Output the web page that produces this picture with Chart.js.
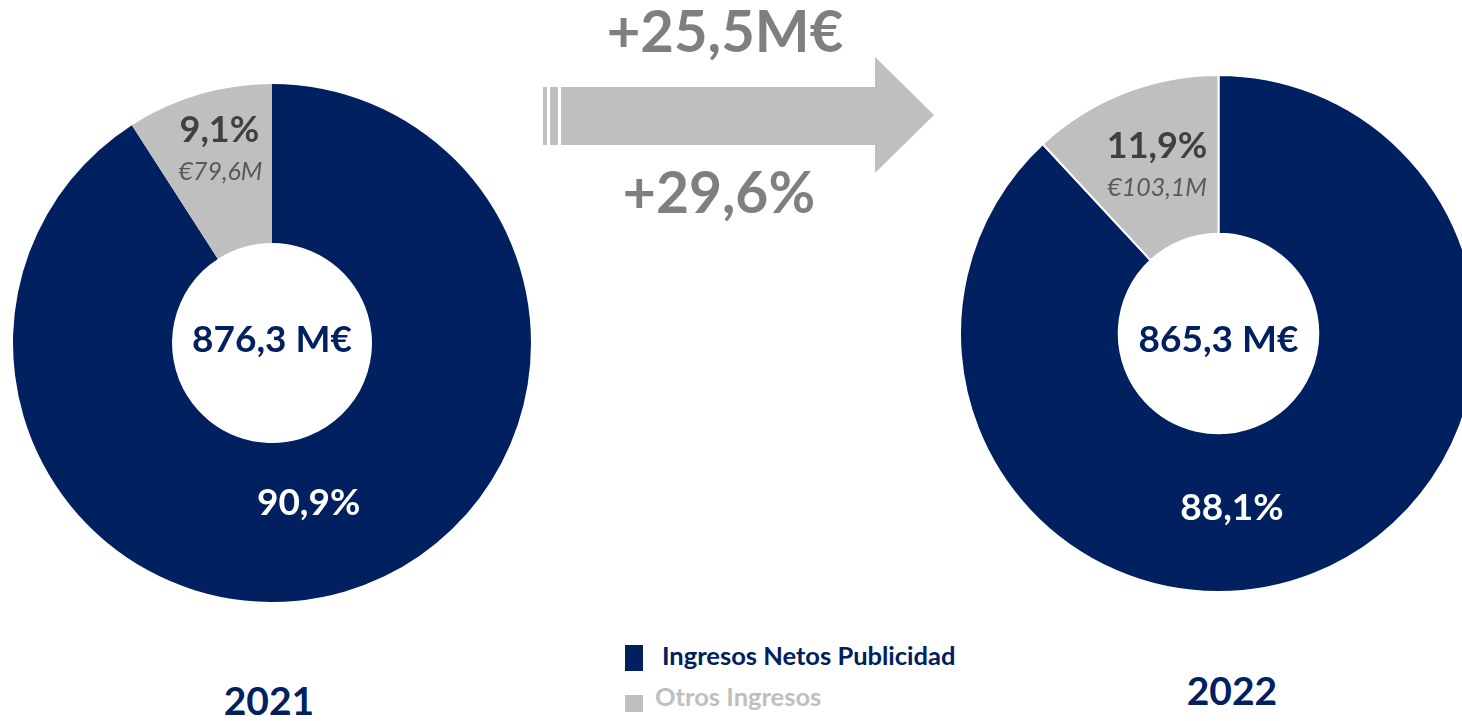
<!DOCTYPE html>
<html>
<head>
	<meta charset="utf-8">
	<title>Ingresos 2021 - 2022</title>
	<script src="https://cdn.jsdelivr.net/npm/chart.js"></script>
	<style>
	html, body { margin: 0; padding: 0; background: #fff; }
	body { width: 1462px; height: 721px; overflow: hidden; position: relative; font-family: Lato, "Open Sans", sans-serif; }
	canvas { position: absolute; }
	#pie2021 { left: 13px; top: 84px; }
	#pie2022 { left: 959px; top: 74px; }
	.txt { position: absolute; white-space: nowrap; line-height: normal; }
	.box { position: absolute; }
	</style>
</head>
<body>

<canvas id="pie2021" width="518" height="518"></canvas>
<canvas id="pie2022" width="519" height="519"></canvas>

<!-- arrow between the two years -->
<div class="box" style="left:543px;top:87px;width:4px;height:58px;background:#bfbfbf"></div>
<div class="box" style="left:550px;top:87px;width:8px;height:58px;background:#bfbfbf"></div>
<div class="box" style="left:561px;top:87px;width:315px;height:58px;background:#bfbfbf"></div>
<div class="box" style="left:875px;top:57px;width:0;height:0;border-left:59px solid #bfbfbf;border-top:58px solid transparent;border-bottom:58px solid transparent"></div>

<!-- legend squares -->
<div class="box" style="left:625px;top:645px;width:18px;height:26px;background:#002060"></div>
<div class="box" style="left:625px;top:695px;width:18px;height:17px;background:#bfbfbf"></div>

<script>
const years = ['2021', '2022'];
const categories = ['Ingresos Netos Publicidad', 'Otros Ingresos'];
const share2021 = [90.9, 9.1];
const share2022 = [88.1, 11.9];
const otros2021 = 79.6;   // M€
const otros2022 = 103.1;  // M€
const totals = [876.3, 865.3];
const growthAbs = 25.5;   // M€
const growthPct = 29.6;   // %

const NAVY = '#002060';
const GREY = '#bfbfbf';

const fmt = v => v.toFixed(1).replace('.', ',');

// puts a text so that its baseline sits at y
const measureCtx = document.createElement('canvas').getContext('2d');
function placeText(text, x, baseline, font, color, align) {
	measureCtx.font = font;
	const m = measureCtx.measureText(text);
	const d = document.createElement('div');
	d.className = 'txt';
	d.textContent = text;
	d.style.font = font;
	d.style.lineHeight = 'normal';
	d.style.color = color;
	d.style.top = (baseline - m.fontBoundingBoxAscent) + 'px';
	if (align == 'center') {
		d.style.left = (x - m.width / 2) + 'px';
	} else {
		d.style.left = x + 'px';
	}
	document.body.appendChild(d);
}

// labels drawn inside slices, positioned from the arc geometry
function sliceLabels(items) {
	return {
		id: 'sliceLabels',
		afterDatasetsDraw(chart) {
			const ctx = chart.ctx;
			const arcs = chart.getDatasetMeta(0).data;
			items.forEach(it => {
				const p = arcs[it.index].getProps(['x', 'y', 'startAngle', 'endAngle', 'innerRadius', 'outerRadius'], true);
				const mid = (p.startAngle + p.endAngle) / 2;
				const r = (p.innerRadius + p.outerRadius) / 2;
				ctx.save();
				ctx.font = it.font;
				ctx.fillStyle = it.color;
				ctx.textAlign = 'center';
				ctx.textBaseline = 'alphabetic';
				ctx.fillText(it.text, p.x + Math.cos(mid) * r + it.dx, p.y + Math.sin(mid) * r + it.dy);
				ctx.restore();
			});
		}
	};
}

function centerText(text, dy) {
	return {
		id: 'centerText',
		afterDatasetsDraw(chart) {
			const arc = chart.getDatasetMeta(0).data[0];
			const ctx = chart.ctx;
			ctx.save();
			ctx.font = 'bold 37px Lato';
			ctx.fillStyle = NAVY;
			ctx.textAlign = 'center';
			ctx.textBaseline = 'alphabetic';
			ctx.fillText(text, arc.x, arc.y + dy);
			ctx.restore();
		}
	};
}

function makePie(id, shares, border, plugins) {
	return new Chart(document.getElementById(id), {
		type: 'doughnut',
		data: {
			labels: categories,
			datasets: [{
				data: shares,
				backgroundColor: [NAVY, GREY],
				borderColor: '#ffffff',
				borderWidth: border
			}]
		},
		options: {
			responsive: false,
			animation: false,
			events: [],
			cutout: '38.6%',
			layout: { padding: 0 },
			plugins: {
				legend: { display: false },
				tooltip: { enabled: false }
			}
		},
		plugins: plugins
	});
}

makePie('pie2021', share2021, 0, [
	sliceLabels([
		{ index: 0, text: fmt(share2021[0]) + '%', font: 'bold 37px Lato', color: '#ffffff', dx: -14, dy: 0 },
		{ index: 1, text: fmt(share2021[1]) + '%', font: 'bold 36px Lato', color: '#404040', dx: -2, dy: -29 },
		{ index: 1, text: '€' + fmt(otros2021) + 'M', font: 'italic 25px Lato', color: '#595959', dx: -1, dy: 9 }
	]),
	centerText(fmt(totals[0]) + ' M€', 9)
]);

makePie('pie2022', share2022, 2, [
	sliceLabels([
		{ index: 0, text: fmt(share2022[0]) + '%', font: 'bold 37px Lato', color: '#ffffff', dx: -52, dy: 20 },
		{ index: 1, text: fmt(share2022[1]) + '%', font: 'bold 36px Lato', color: '#404040', dx: 4, dy: -9 },
		{ index: 1, text: '€' + fmt(otros2022) + 'M', font: 'italic 25px Lato', color: '#595959', dx: 4, dy: 29 }
	]),
	centerText(fmt(totals[1]) + ' M€', 18)
]);

// arrow texts
placeText('+' + fmt(growthAbs) + 'M€', 725, 52, 'bold 58px Lato', '#7f7f7f', 'center');
placeText('+' + fmt(growthPct) + '%', 719, 213, 'bold 57px Lato', '#7f7f7f', 'center');

// years
placeText(years[0], 269, 715, 'bold 39px Lato', NAVY, 'center');
placeText(years[1], 1232, 705, 'bold 39px Lato', NAVY, 'center');

// legend
placeText(categories[0], 662, 665, 'bold 25.5px Lato', NAVY, 'left');
placeText(categories[1], 655, 706, 'bold 25.5px Lato', GREY, 'left');
</script>
</body>
</html>
